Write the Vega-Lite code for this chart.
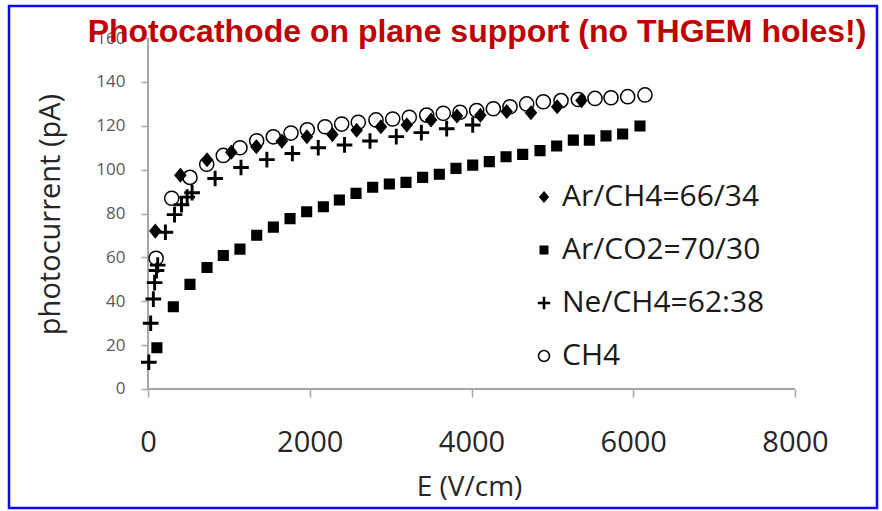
{
  "$schema": "https://vega.github.io/schema/vega-lite/v6.json",
  "width": 868,
  "height": 502,
  "autosize": {"type": "none"},
  "padding": {"left": 9, "top": 6, "right": 5, "bottom": 3},
  "background": "white",
  "config": {
    "view": {"stroke": "#0a0aee", "strokeWidth": 2.5}
  },
  "datasets": {
    "points": [
      {"gas": "CH4", "E": 100, "I": 59.6},
      {"gas": "CH4", "E": 293, "I": 87},
      {"gas": "CH4", "E": 519, "I": 96.5},
      {"gas": "CH4", "E": 726, "I": 102.5},
      {"gas": "CH4", "E": 931, "I": 106.5},
      {"gas": "CH4", "E": 1137, "I": 110},
      {"gas": "CH4", "E": 1344, "I": 113.2},
      {"gas": "CH4", "E": 1549, "I": 115},
      {"gas": "CH4", "E": 1768, "I": 116.7},
      {"gas": "CH4", "E": 1970, "I": 118.2},
      {"gas": "CH4", "E": 2189, "I": 119.6},
      {"gas": "CH4", "E": 2395, "I": 120.8},
      {"gas": "CH4", "E": 2600, "I": 121.6},
      {"gas": "CH4", "E": 2819, "I": 122.7},
      {"gas": "CH4", "E": 3026, "I": 123.1},
      {"gas": "CH4", "E": 3231, "I": 123.9},
      {"gas": "CH4", "E": 3446, "I": 124.9},
      {"gas": "CH4", "E": 3651, "I": 125.7},
      {"gas": "CH4", "E": 3858, "I": 126.2},
      {"gas": "CH4", "E": 4064, "I": 127},
      {"gas": "CH4", "E": 4270, "I": 127.8},
      {"gas": "CH4", "E": 4476, "I": 128.7},
      {"gas": "CH4", "E": 4682, "I": 130},
      {"gas": "CH4", "E": 4888, "I": 131},
      {"gas": "CH4", "E": 5107, "I": 131.5},
      {"gas": "CH4", "E": 5321, "I": 132},
      {"gas": "CH4", "E": 5527, "I": 132.5},
      {"gas": "CH4", "E": 5725, "I": 132.8},
      {"gas": "CH4", "E": 5931, "I": 133.3},
      {"gas": "CH4", "E": 6145, "I": 134.1},
      {"gas": "Ar/CO2=70/30", "E": 110, "I": 18.8},
      {"gas": "Ar/CO2=70/30", "E": 313, "I": 37.5},
      {"gas": "Ar/CO2=70/30", "E": 519, "I": 47.7},
      {"gas": "Ar/CO2=70/30", "E": 730, "I": 55.4},
      {"gas": "Ar/CO2=70/30", "E": 931, "I": 60.9},
      {"gas": "Ar/CO2=70/30", "E": 1137, "I": 63.8},
      {"gas": "Ar/CO2=70/30", "E": 1344, "I": 70.1},
      {"gas": "Ar/CO2=70/30", "E": 1550, "I": 73.8},
      {"gas": "Ar/CO2=70/30", "E": 1756, "I": 77.7},
      {"gas": "Ar/CO2=70/30", "E": 1962, "I": 80.8},
      {"gas": "Ar/CO2=70/30", "E": 2168, "I": 83.1},
      {"gas": "Ar/CO2=70/30", "E": 2366, "I": 86.2},
      {"gas": "Ar/CO2=70/30", "E": 2572, "I": 89.2},
      {"gas": "Ar/CO2=70/30", "E": 2778, "I": 92},
      {"gas": "Ar/CO2=70/30", "E": 2984, "I": 93.5},
      {"gas": "Ar/CO2=70/30", "E": 3190, "I": 94.2},
      {"gas": "Ar/CO2=70/30", "E": 3396, "I": 96.5},
      {"gas": "Ar/CO2=70/30", "E": 3602, "I": 97.9},
      {"gas": "Ar/CO2=70/30", "E": 3808, "I": 100.6},
      {"gas": "Ar/CO2=70/30", "E": 4015, "I": 102.1},
      {"gas": "Ar/CO2=70/30", "E": 4220, "I": 103.7},
      {"gas": "Ar/CO2=70/30", "E": 4427, "I": 105.9},
      {"gas": "Ar/CO2=70/30", "E": 4633, "I": 107},
      {"gas": "Ar/CO2=70/30", "E": 4847, "I": 108.7},
      {"gas": "Ar/CO2=70/30", "E": 5053, "I": 110.8},
      {"gas": "Ar/CO2=70/30", "E": 5259, "I": 113.5},
      {"gas": "Ar/CO2=70/30", "E": 5457, "I": 113.5},
      {"gas": "Ar/CO2=70/30", "E": 5663, "I": 115.4},
      {"gas": "Ar/CO2=70/30", "E": 5869, "I": 116.3},
      {"gas": "Ar/CO2=70/30", "E": 6083, "I": 119.9},
      {"gas": "Ne/CH4=62:38", "E": 10, "I": 12.2},
      {"gas": "Ne/CH4=62:38", "E": 33, "I": 30},
      {"gas": "Ne/CH4=62:38", "E": 66, "I": 41},
      {"gas": "Ne/CH4=62:38", "E": 82, "I": 48.5},
      {"gas": "Ne/CH4=62:38", "E": 105, "I": 54},
      {"gas": "Ne/CH4=62:38", "E": 120, "I": 56.5},
      {"gas": "Ne/CH4=62:38", "E": 215, "I": 71.5},
      {"gas": "Ne/CH4=62:38", "E": 328, "I": 79.5},
      {"gas": "Ne/CH4=62:38", "E": 414, "I": 84},
      {"gas": "Ne/CH4=62:38", "E": 484, "I": 87.5},
      {"gas": "Ne/CH4=62:38", "E": 545, "I": 89.5},
      {"gas": "Ne/CH4=62:38", "E": 830, "I": 96},
      {"gas": "Ne/CH4=62:38", "E": 1150, "I": 101},
      {"gas": "Ne/CH4=62:38", "E": 1470, "I": 104.6},
      {"gas": "Ne/CH4=62:38", "E": 1785, "I": 107.4},
      {"gas": "Ne/CH4=62:38", "E": 2105, "I": 110},
      {"gas": "Ne/CH4=62:38", "E": 2430, "I": 111.3},
      {"gas": "Ne/CH4=62:38", "E": 2745, "I": 113.1},
      {"gas": "Ne/CH4=62:38", "E": 3070, "I": 115.1},
      {"gas": "Ne/CH4=62:38", "E": 3380, "I": 116.9},
      {"gas": "Ne/CH4=62:38", "E": 3693, "I": 118.7},
      {"gas": "Ne/CH4=62:38", "E": 4015, "I": 120.4},
      {"gas": "Ar/CH4=66/34", "E": 90, "I": 72},
      {"gas": "Ar/CH4=66/34", "E": 400, "I": 97.5},
      {"gas": "Ar/CH4=66/34", "E": 730, "I": 104.5},
      {"gas": "Ar/CH4=66/34", "E": 1030, "I": 108},
      {"gas": "Ar/CH4=66/34", "E": 1340, "I": 110.5},
      {"gas": "Ar/CH4=66/34", "E": 1655, "I": 113},
      {"gas": "Ar/CH4=66/34", "E": 1965, "I": 115},
      {"gas": "Ar/CH4=66/34", "E": 2280, "I": 116},
      {"gas": "Ar/CH4=66/34", "E": 2580, "I": 118},
      {"gas": "Ar/CH4=66/34", "E": 2880, "I": 119.6},
      {"gas": "Ar/CH4=66/34", "E": 3200, "I": 120.4},
      {"gas": "Ar/CH4=66/34", "E": 3500, "I": 122.7},
      {"gas": "Ar/CH4=66/34", "E": 3820, "I": 124.5},
      {"gas": "Ar/CH4=66/34", "E": 4110, "I": 124.8},
      {"gas": "Ar/CH4=66/34", "E": 4435, "I": 126.5},
      {"gas": "Ar/CH4=66/34", "E": 4735, "I": 126},
      {"gas": "Ar/CH4=66/34", "E": 5060, "I": 128.7},
      {"gas": "Ar/CH4=66/34", "E": 5360, "I": 131.5}
    ]
  },
  "layer": [
    {
      "data": {"values": [{"a": 1}]},
      "mark": {"type": "rule", "color": "#a6a6a6", "strokeWidth": 2},
      "encoding": {
        "x": {"datum": 0, "type": "quantitative"},
        "y": {"datum": 0, "type": "quantitative"},
        "y2": {"datum": 160}
      }
    },
    {
      "data": {"values": [{"a": 1}]},
      "mark": {"type": "rule", "color": "#a6a6a6", "strokeWidth": 2},
      "encoding": {
        "x": {"datum": 0, "type": "quantitative"},
        "x2": {"datum": 8000},
        "y": {"datum": 0, "type": "quantitative"}
      }
    },
    {
      "data": {"name": "points"},
      "mark": {"type": "point", "filled": true, "strokeWidth": 1.5, "size": 200, "opacity": 1},
      "encoding": {
        "x": {
          "field": "E",
          "type": "quantitative",
          "scale": {"domain": [-1718.7, 9013.9], "nice": false, "zero": false},
          "axis": {
            "values": [0, 2000, 4000, 6000, 8000],
            "format": "d",
            "offset": -119,
            "domain": false,
            "grid": false,
            "tickSize": 8,
            "tickColor": "#a6a6a6",
            "tickWidth": 1.5,
            "labelFont": "Open Sans",
            "labelFontSize": 29,
            "labelColor": "#262626",
            "labelPadding": 31,
            "labelFlush": false,
            "labelOverlap": false,
            "title": "E (V/cm)",
            "titleFont": "Open Sans",
            "titleFontSize": 28,
            "titleFontWeight": "normal",
            "titleColor": "#262626",
            "titleX": 460,
            "titleY": 98,
            "titleBaseline": "middle",
            "titleAlign": "center"
          }
        },
        "y": {
          "field": "I",
          "type": "quantitative",
          "scale": {"domain": [-54.27, 174.65], "nice": false, "zero": false},
          "axis": {
            "values": [0, 20, 40, 60, 80, 100, 120, 140, 160],
            "offset": -139,
            "domain": false,
            "grid": false,
            "tickSize": 7,
            "tickColor": "#a6a6a6",
            "tickWidth": 1.5,
            "labelFont": "Open Sans",
            "labelFontSize": 17,
            "labelColor": "#595959",
            "labelPadding": 16,
            "labelFlush": false,
            "labelOverlap": false,
            "title": "photocurrent  (pA)",
            "titleFont": "Open Sans",
            "titleFontSize": 29,
            "titleFontWeight": "normal",
            "titleColor": "#262626",
            "titleX": -98,
            "titleY": 208,
            "titleAngle": -90,
            "titleBaseline": "middle",
            "titleAlign": "center"
          }
        },
        "shape": {
          "field": "gas",
          "type": "nominal",
          "scale": {
            "domain": ["Ar/CH4=66/34", "Ar/CO2=70/30", "Ne/CH4=62:38", "CH4"],
            "range": [
              "M0,-0.9L0.75,0L0,0.9L-0.75,0Z",
              "M-0.68,-0.68H0.68V0.68H-0.68Z",
              "M-0.1,-1H0.1V-0.1H1V0.1H0.1V1H-0.1V0.1H-1V-0.1H-0.1Z",
              "circle"
            ]
          },
          "legend": {
            "title": null,
            "orient": "none",
            "legendX": 520,
            "legendY": 176,
            "padding": 0,
            "labelFont": "Open Sans",
            "labelFontSize": 30,
            "labelColor": "#1a1a1a",
            "labelLimit": 400,
            "labelOffset": 3,
            "rowPadding": 23,
            "symbolSize": 120,
            "symbolStrokeWidth": 1.5
          }
        },
        "fill": {
          "field": "gas",
          "type": "nominal",
          "scale": {
            "domain": ["Ar/CH4=66/34", "Ar/CO2=70/30", "Ne/CH4=62:38", "CH4"],
            "range": ["black", "black", "black", "white"]
          },
          "legend": {
            "title": null,
            "orient": "none",
            "legendX": 520,
            "legendY": 176,
            "padding": 0,
            "labelFont": "Open Sans",
            "labelFontSize": 30,
            "labelColor": "#1a1a1a",
            "labelLimit": 400,
            "labelOffset": 3,
            "rowPadding": 23,
            "symbolSize": 120,
            "symbolStrokeWidth": 1.5
          }
        },
        "stroke": {
          "field": "gas",
          "type": "nominal",
          "scale": {
            "domain": ["Ar/CH4=66/34", "Ar/CO2=70/30", "Ne/CH4=62:38", "CH4"],
            "range": ["black", "black", "black", "black"]
          },
          "legend": {
            "title": null,
            "orient": "none",
            "legendX": 520,
            "legendY": 176,
            "padding": 0,
            "labelFont": "Open Sans",
            "labelFontSize": 30,
            "labelColor": "#1a1a1a",
            "labelLimit": 400,
            "labelOffset": 3,
            "rowPadding": 23,
            "symbolSize": 120,
            "symbolStrokeWidth": 1.5
          }
        }
      }
    },
    {
      "data": {"values": [{"label": "Photocathode on plane support (no THGEM holes!)"}]},
      "mark": {
        "type": "text",
        "align": "center",
        "baseline": "alphabetic",
        "font": "Liberation Sans",
        "fontSize": 32,
        "fontWeight": "bold",
        "color": "#c00000"
      },
      "encoding": {
        "text": {"field": "label", "type": "nominal"},
        "x": {"datum": 4068, "type": "quantitative"},
        "y": {"datum": 158.2, "type": "quantitative"}
      }
    }
  ]
}
